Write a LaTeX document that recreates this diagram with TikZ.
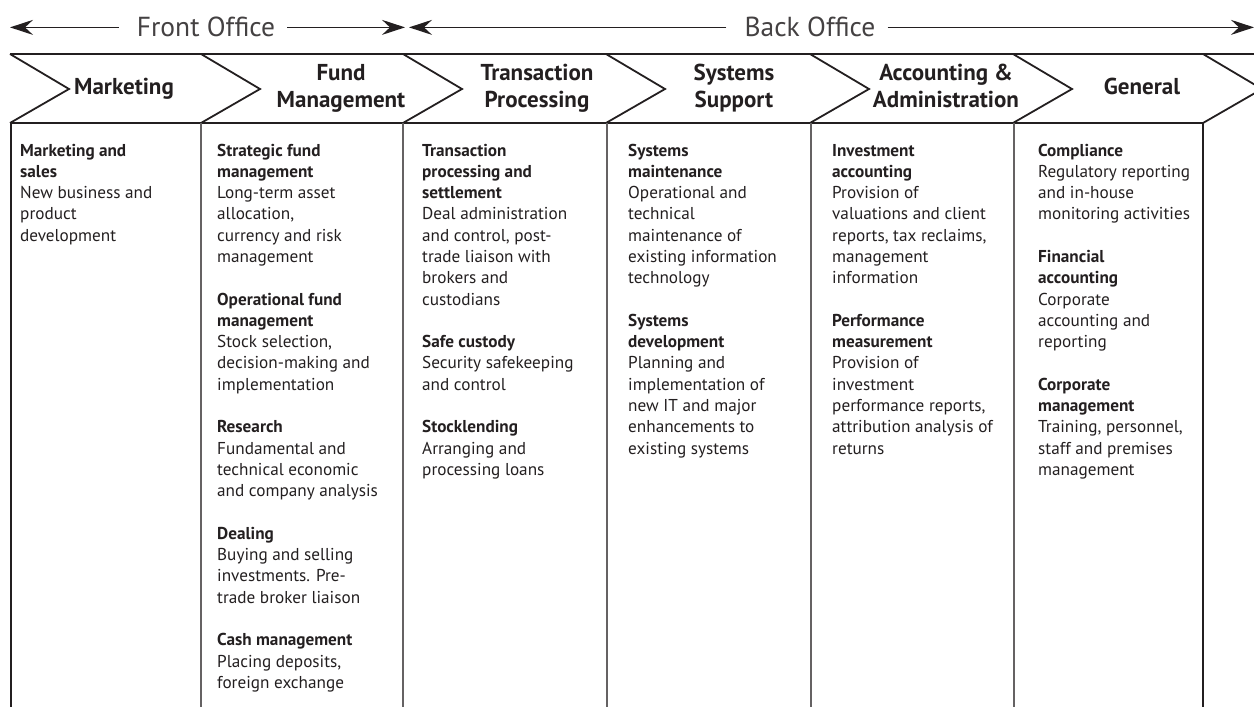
\documentclass[tikz,border=0pt]{standalone}
\usepackage{fontspec}
\setmainfont{PT Sans}
\usetikzlibrary{arrows.meta}
\definecolor{ink}{HTML}{231F20}
\newcommand{\hb}[1]{\textbf{#1}}
\newcommand{\gap}{\\[21.3pt]}
\begin{document}
\begin{tikzpicture}[x=1pt,y=-1pt,
  band/.style={line width=2.2pt, draw=ink},
  notch/.style={line width=1.8pt, draw=ink, line join=miter},
  innerline/.style={line width=1.2pt, draw=ink!70},
  outerline/.style={line width=2pt, draw=ink},
  office/.style={font=\fontsize{27.5}{32}\selectfont, text=ink!85, inner sep=0pt, anchor=base},
  oarrow/.style={line width=1.2pt, draw=ink, -{Stealth[length=23pt,width=15pt,inset=8pt]}},
  head/.style={anchor=base, inner sep=0pt, text=ink, font=\bfseries\fontsize{23}{27}\selectfont},
  body/.style={anchor=base west, inner sep=0pt, text=ink, font=\fontsize{17.2}{21.3}\selectfont}
]
\useasboundingbox (0,0) rectangle (1254,709);

% office arrows
\node[office] (fo) at (206,37) {Front Office};
\node[office] (bo) at (810,37) {Back Office};
\coordinate (foL) at (10,27);
\coordinate (foR) at (405,27);
\coordinate (boL) at (409,27);
\coordinate (boR) at (1254,27);
\draw[oarrow] ([xshift=-18pt]fo.west) -- (foL |- fo.west);
\draw[oarrow] ([xshift=12pt]fo.east) -- (foR |- fo.east);
\draw[oarrow] ([xshift=-18pt]bo.west) -- (boL |- bo.west);
\draw[oarrow] ([xshift=12pt]bo.east) -- (boR |- bo.east);

% chevron band
\begin{scope}
\clip (0,0) rectangle (1254,709);
\draw[band] (10,54) -- (1254,54);
\draw[band] (10,123) -- (1203,123);
\foreach \x in {10,201,403,606,810,1013,1203}
  \draw[notch] (\x,54) -- (\x+59,89) -- (\x,123);
\end{scope}

% column rules
\foreach \x in {201,403,607,811,1014}
  \draw[innerline] (\x,123) -- (\x,707);
\draw[outerline] (11,123) -- (11,707);
\draw[outerline] (1203,123) -- (1203,707);

% headings
\node[head] (h1) at (124,95) {Marketing};
\node[head] (h2) at (341,81) {\parbox[t]{200pt}{\centering Fund\\Management}};
\node[head] (h3) at (537,81) {\parbox[t]{200pt}{\centering Transaction\\Processing}};
\node[head] (h4) at (734,81) {\parbox[t]{200pt}{\centering Systems\\Support}};
\node[head] (h5) at (946,81) {\parbox[t]{200pt}{\centering Accounting \&\\Administration}};
\node[head] (h6) at (1142,95) {General};

% column bodies
\node[body] (c1) at (20,156) {\parbox[t]{180pt}{\raggedright
\hb{Marketing and}\\\hb{sales}\\New business and\\product\\development}};

\node[body] (c2) at (217,156) {\parbox[t]{180pt}{\raggedright
\hb{Strategic fund}\\\hb{management}\\Long-term asset\\allocation,\\currency and risk\\management\gap
\hb{Operational fund}\\\hb{management}\\Stock selection,\\decision-making and\\implementation\gap
\hb{Research}\\Fundamental and\\technical economic\\and company analysis\gap
\hb{Dealing}\\Buying and selling\\investments. Pre-\\trade broker liaison\gap
\hb{Cash management}\\Placing deposits,\\foreign exchange}};

\node[body] (c3) at (422,156) {\parbox[t]{180pt}{\raggedright
\hb{Transaction}\\\hb{processing and}\\\hb{settlement}\\Deal administration\\and control, post-\\trade liaison with\\brokers and\\custodians\gap
\hb{Safe custody}\\Security safekeeping\\and control\gap
\hb{Stocklending}\\Arranging and\\processing loans}};

\node[body] (c4) at (628,156) {\parbox[t]{180pt}{\raggedright
\hb{Systems}\\\hb{maintenance}\\Operational and\\technical\\maintenance of\\existing information\\technology\gap
\hb{Systems}\\\hb{development}\\Planning and\\implementation of\\new IT and major\\enhancements to\\existing systems}};

\node[body] (c5) at (832,156) {\parbox[t]{180pt}{\raggedright
\hb{Investment}\\\hb{accounting}\\Provision of\\valuations and client\\reports, tax reclaims,\\management\\information\gap
\hb{Performance}\\\hb{measurement}\\Provision of\\investment\\performance reports,\\attribution analysis of\\returns}};

\node[body] (c6) at (1038,156) {\parbox[t]{180pt}{\raggedright
\hb{Compliance}\\Regulatory reporting\\and in-house\\monitoring activities\gap
\hb{Financial}\\\hb{accounting}\\Corporate\\accounting and\\reporting\gap
\hb{Corporate}\\\hb{management}\\Training, personnel,\\staff and premises\\management}};
\end{tikzpicture}
\end{document}
